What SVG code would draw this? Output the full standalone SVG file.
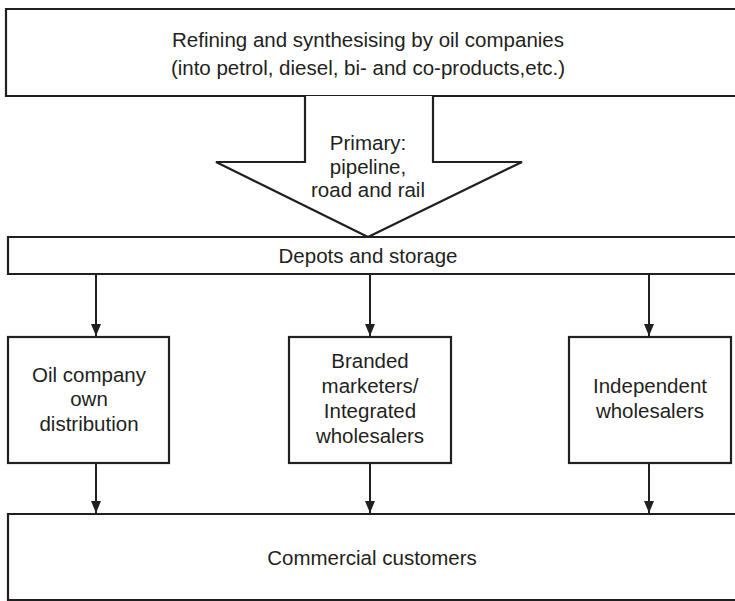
<svg xmlns="http://www.w3.org/2000/svg" width="735" height="601" viewBox="0 0 735 601">
<defs>
<style>
.box{fill:#fff;stroke:#231f20;stroke-width:2.2}
.t{font-family:"Liberation Sans",Arial,sans-serif;font-size:20.5px;fill:#231f20;text-anchor:middle}
.c{stroke:#231f20;stroke-width:2;fill:none}
</style>
<marker id="ah" viewBox="0 0 12 10" refX="12" refY="5" markerWidth="12" markerHeight="10" markerUnits="userSpaceOnUse" orient="auto">
<path d="M0,0 L12,5 L0,10 Z" fill="#231f20"/>
</marker>
</defs>
<rect width="735" height="601" fill="#fff"/>
<g id="refining">
<path class="box" d="M740,9 H6 V96 H740"/>
<text class="t" x="368" y="47">Refining and synthesising by oil companies</text>
<text class="t" x="368" y="75">(into petrol, diesel, bi- and co-products,etc.)</text>
</g>
<g id="primary">
<path class="box" d="M305,96 V162 H216 L368,237 L522,162 H433 V96"/>
<text class="t" x="368" y="150">Primary:</text>
<text class="t" x="368" y="174">pipeline,</text>
<text class="t" x="368" y="197">road and rail</text>
</g>
<g id="depots">
<path class="box" d="M740,237 H8 V274 H740"/>
<text class="t" x="368" y="263">Depots and storage</text>
</g>
<g id="oil-company">
<rect class="box" x="8" y="337" width="161" height="126"/>
<text class="t" x="89" y="382">Oil company</text>
<text class="t" x="89" y="406">own</text>
<text class="t" x="89" y="431">distribution</text>
</g>
<g id="branded">
<rect class="box" x="289" y="337" width="162" height="126"/>
<text class="t" x="370" y="368">Branded</text>
<text class="t" x="370" y="393">marketers/</text>
<text class="t" x="370" y="418">Integrated</text>
<text class="t" x="370" y="443">wholesalers</text>
</g>
<g id="independent">
<rect class="box" x="569" y="337" width="162" height="126"/>
<text class="t" x="650" y="393">Independent</text>
<text class="t" x="650" y="418">wholesalers</text>
</g>
<g id="commercial">
<path class="box" d="M740,514 H8 V600 H740"/>
<text class="t" x="372" y="565">Commercial customers</text>
</g>
<g id="connectors">
<line class="c" x1="96" y1="274" x2="96" y2="336" marker-end="url(#ah)"/>
<line class="c" x1="370" y1="274" x2="370" y2="336" marker-end="url(#ah)"/>
<line class="c" x1="649" y1="274" x2="649" y2="336" marker-end="url(#ah)"/>
<line class="c" x1="96" y1="463" x2="96" y2="513" marker-end="url(#ah)"/>
<line class="c" x1="370" y1="463" x2="370" y2="513" marker-end="url(#ah)"/>
<line class="c" x1="649" y1="463" x2="649" y2="513" marker-end="url(#ah)"/>
</g>
</svg>
